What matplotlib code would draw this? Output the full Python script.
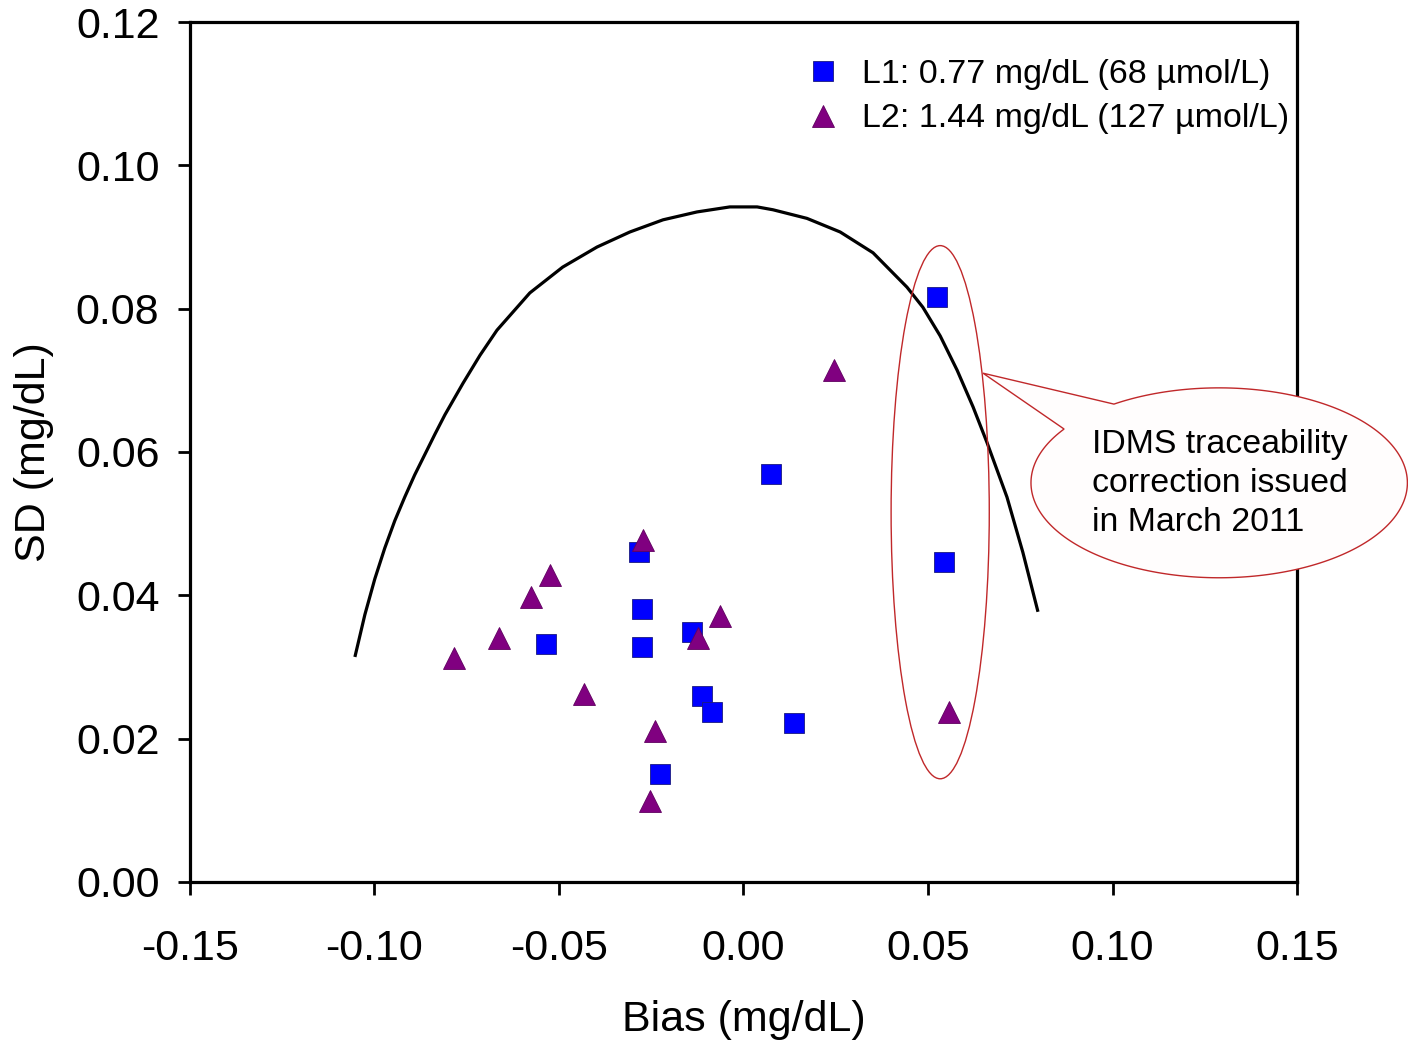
import numpy as np
import matplotlib
matplotlib.use("Agg")
import matplotlib.pyplot as plt
from matplotlib.patches import Ellipse, PathPatch
from matplotlib.path import Path

plt.rcParams['font.family'] = ['Liberation Sans', 'DejaVu Sans']
plt.rcParams['axes.unicode_minus'] = False

# L1: 0.77 mg/dL
l1_bias = [0.0524, 0.0075, 0.0543, -0.0283, -0.0275, -0.0275, -0.0535, -0.0140,
           -0.0112, -0.0085, 0.0137, -0.0226]
l1_sd = [0.0816, 0.0569, 0.0446, 0.0460, 0.0381, 0.0328, 0.0332, 0.0349,
         0.0260, 0.0237, 0.0222, 0.0151]

# L2: 1.44 mg/dL
l2_bias = [0.0245, -0.0272, -0.0524, -0.0576, -0.0064, -0.0663, -0.0785, -0.0123,
           -0.0432, -0.0240, -0.0253, 0.0557]
l2_sd = [0.0714, 0.0477, 0.0428, 0.0398, 0.0371, 0.0340, 0.0313, 0.0340,
         0.0262, 0.0211, 0.0113, 0.0237]

# curva limite
curve_bias = [-0.1053, -0.1026, -0.0999, -0.0972, -0.0945, -0.0918, -0.0891, -0.0863,
              -0.0836, -0.0809, -0.0760, -0.0714, -0.0668, -0.0579, -0.0490, -0.0397,
              -0.0308, -0.0218, -0.0126, -0.0037, 0.0037, 0.0080, 0.0172, 0.0262,
              0.0351, 0.0443, 0.0486, 0.0533, 0.0579, 0.0622, 0.0660, 0.0714,
              0.0757, 0.0798]
curve_sd = [0.0314, 0.0373, 0.0423, 0.0466, 0.0504, 0.0537, 0.0568, 0.0597,
            0.0625, 0.0652, 0.0696, 0.0735, 0.0770, 0.0822, 0.0858, 0.0886,
            0.0907, 0.0924, 0.0935, 0.0942, 0.0942, 0.0938, 0.0926, 0.0907,
            0.0878, 0.0830, 0.0802, 0.0762, 0.0714, 0.0663, 0.0613, 0.0537,
            0.0460, 0.0377]

x_ticks = [-0.15, -0.10, -0.05, 0.00, 0.05, 0.10, 0.15]
y_ticks = [0.00, 0.02, 0.04, 0.06, 0.08, 0.10, 0.12]

fig = plt.figure(figsize=(14.08, 10.44), dpi=100)
ax = fig.add_axes([0.1349, 0.1552, 0.7863, 0.8237])

ax.plot(curve_bias, curve_sd, color='black', lw=2.3, zorder=2,
        solid_joinstyle='round', solid_capstyle='butt')
ax.plot(l1_bias, l1_sd, 's', color='#0000FF', mec='#1a1a80', mew=0.6, ms=15,
        ls='none', label='L1: 0.77 mg/dL (68 \u00b5mol/L)', zorder=3)
ax.plot(l2_bias, l2_sd, '^', color='#800080', mec='#600060', mew=0.6, ms=16,
        ls='none', label='L2: 1.44 mg/dL (127 \u00b5mol/L)', zorder=4)

# elipse que marca los puntos corregidos
ax.add_patch(Ellipse((0.0533, 0.0516), 0.0266, 0.0744, fill=False,
                     ec='#C0282A', lw=1.0, zorder=5))

# globo de texto (elipse + punta)
cx, cy, a, b = 0.1289, 0.0557, 0.0510, 0.01325
t1 = np.linspace(0, np.deg2rad(124), 80)
t2 = np.linspace(np.deg2rad(145.5), 2 * np.pi, 150)
pts = [(cx + a * np.cos(t), cy + b * np.sin(t)) for t in t1]
pts.append((0.0649, 0.0710))
pts += [(cx + a * np.cos(t), cy + b * np.sin(t)) for t in t2]
codes = [Path.MOVETO] + [Path.LINETO] * (len(pts) - 1)
balloon = PathPatch(Path(pts, codes), fc='#FFFDFD', ec='#C0282A', lw=1.0,
                    clip_on=False, zorder=6)
ax.add_patch(balloon)
ax.text(0.0945, 0.0556, 'IDMS traceability\ncorrection issued\nin March 2011',
        fontsize=24.4, ha='left', va='center', linespacing=1.35, zorder=7,
        clip_on=False)

ax.set_xlim(-0.15, 0.15)
ax.set_ylim(0, 0.12)
ax.set_xticks(x_ticks)
ax.set_yticks(y_ticks)
ax.set_xticklabels(['%.2f' % v for v in x_ticks])
ax.set_yticklabels(['%.2f' % v for v in y_ticks])
ax.tick_params(axis='x', direction='out', length=9, width=2, labelsize=31, pad=25)
ax.tick_params(axis='y', direction='out', length=9, width=2, labelsize=31, pad=13)
for s in ax.spines.values():
    s.set_linewidth(2.3)

ax.set_xlabel('Bias (mg/dL)', fontsize=31, labelpad=22)
ax.set_ylabel('SD (mg/dL)', fontsize=31, labelpad=16)

ax.legend(loc='upper left', bbox_to_anchor=(0.544, 0.973), frameon=False,
          fontsize=24.5, handlelength=1.0, handletextpad=0.65, labelspacing=0.4,
          borderaxespad=0.0)

fig.savefig('out.png', dpi=100)
